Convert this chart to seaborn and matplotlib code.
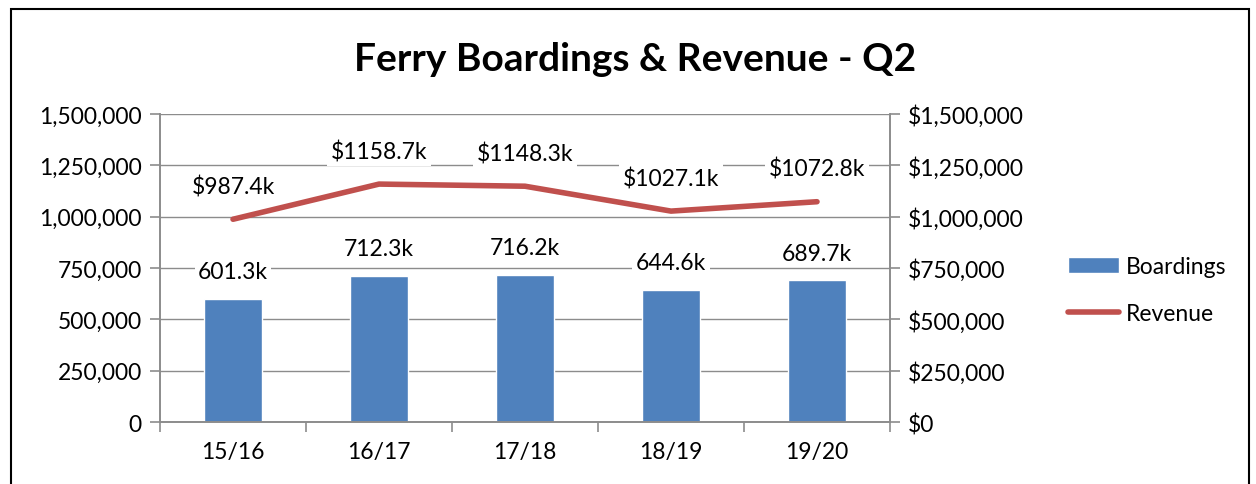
import matplotlib
matplotlib.use("Agg")
import matplotlib.pyplot as plt
import matplotlib.ticker as mticker
from matplotlib.patches import Rectangle
import numpy as np
import pandas as pd
import seaborn as sns

# data
years = ["15/16", "16/17", "17/18", "18/19", "19/20"]
boardings = [601300, 712300, 716200, 644600, 689700]
revenue = [987400, 1158700, 1148300, 1027100, 1072800]

BLUE = "#4F81BD"
RED = "#C0504D"
GRID = "#8C8C8C"

sns.set_theme(style="white")
plt.rcParams["font.family"] = ["Lato", "DejaVu Sans"]
plt.rcParams["text.color"] = "black"
plt.rcParams["xtick.labelcolor"] = "black"
plt.rcParams["ytick.labelcolor"] = "black"
FS = 16.5

df = pd.DataFrame({"year": years, "boardings": boardings, "revenue": revenue})

fig = plt.figure(figsize=(12.56, 4.85), dpi=100)
ax = fig.add_axes([0.1274, 0.1278, 0.5812, 0.6351])

sns.barplot(data=df, x="year", y="boardings", color=BLUE, width=0.4,
            saturation=1, ax=ax, zorder=2, label="Boardings")
if ax.get_legend() is not None:
    ax.get_legend().remove()

ax2 = ax.twinx()
pos = np.arange(len(years))
sns.lineplot(x=pos, y=df["revenue"], color=RED, linewidth=4, ax=ax2,
             label="Revenue", legend=False, solid_capstyle="round")

for a in (ax, ax2):
    a.set_ylim(0, 1500000)
    a.set_yticks(np.arange(0, 1500001, 250000))
    a.set_xlim(-0.5, len(years) - 0.5)
    a.set_xlabel("")
    a.set_ylabel("")
    for s in a.spines.values():
        s.set_color(GRID)
        s.set_linewidth(1.2)
    a.spines["top"].set_visible(False)

ax.yaxis.set_major_formatter(mticker.FuncFormatter(lambda v, p: f"{int(v):,}"))
ax2.yaxis.set_major_formatter(mticker.FuncFormatter(lambda v, p: f"${int(v):,}"))
ax.grid(axis="y", color=GRID, linewidth=1, zorder=0)
ax.set_axisbelow(True)

# category ticks on the boundaries, labels in the middle
ax.set_xticks(np.arange(-0.5, len(years), 1))
ax.set_xticklabels([])
ax.set_xticks(pos, minor=True)
ax.set_xticklabels(years, minor=True)
ax.tick_params(axis="x", which="major", direction="out", length=7, width=1.2,
               color=GRID, bottom=True)
ax.tick_params(axis="x", which="minor", length=0, pad=14, labelsize=FS,
               labelcolor="black")
ax.tick_params(axis="y", direction="out", length=7, width=1.2, color=GRID,
               left=True, labelsize=FS, pad=6, labelcolor="black")
ax2.tick_params(axis="y", direction="out", length=7, width=1.2, color=GRID,
                right=True, labelsize=FS, pad=6, labelcolor="black")

box = dict(boxstyle="square,pad=0.15", fc="white", ec="none")
for i, v in enumerate(boardings):
    ax.annotate(f"{v/1000:.1f}k", (i, v), xytext=(0, 27), textcoords="offset pixels",
                ha="center", va="center", fontsize=FS, bbox=box, zorder=3,
                color="black")
for i, v in enumerate(revenue):
    ax2.annotate(f"${v/1000:.1f}k", (i, v), xytext=(0, 33), textcoords="offset pixels",
                 ha="center", va="center", fontsize=FS, bbox=box, zorder=3,
                 color="black")

fig.text(0.506, 0.877, "Ferry Boardings & Revenue - Q2", ha="center", va="center",
         fontsize=28, fontweight="bold", color="black")

h1, l1 = ax.get_legend_handles_labels()
h2, l2 = ax2.get_legend_handles_labels()
leg = fig.legend(h1 + h2, l1 + l2, loc="center left", bbox_to_anchor=(0.834, 0.40),
                 frameon=False, fontsize=FS, handlelength=2.2, handleheight=0.7,
                 labelspacing=1.15, handletextpad=0.3)
for t in leg.get_texts():
    t.set_color("black")

# outer border of the chart area
fig.patches.append(Rectangle((11 / 1256, -0.1), 1238 / 1256, 1.1 - 10 / 485,
                             transform=fig.transFigure, fill=False,
                             edgecolor="black", linewidth=1.5))

fig.savefig("out.png", dpi=100)
